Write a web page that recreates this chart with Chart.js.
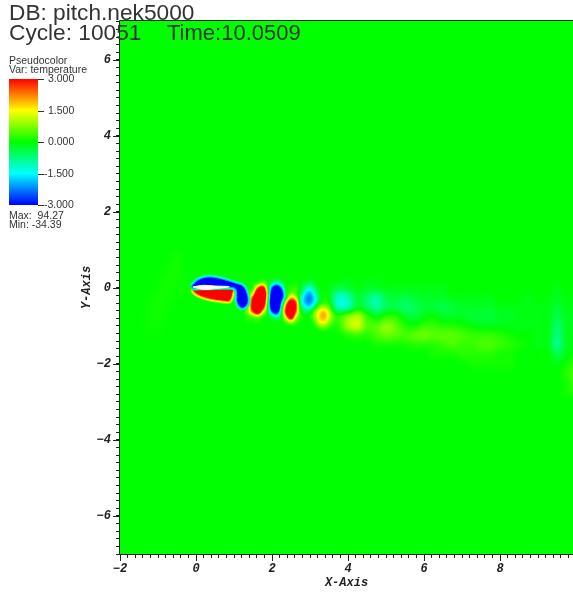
<!DOCTYPE html>
<html>
<head>
<meta charset="utf-8">
<style>
  html, body { margin: 0; padding: 0; background: #fff; }
  canvas { display: block; }
</style>
<script src="https://cdn.jsdelivr.net/npm/chart.js@4/dist/chart.umd.min.js"></script>
</head>
<body>
<canvas id="chart" width="573" height="592"></canvas>
<script>
// Temperature, near wake (vortices behind the wing)
const nearX = [1.25, 1.375, 1.5, 1.625, 1.75, 1.875, 2, 2.125, 2.25, 2.375, 2.5, 2.625, 2.75, 2.875, 3, 3.125, 3.25, 3.375, 3.5, 3.625, 3.75];
const nearY = [0.25, 0.125, 0, -0.125, -0.25, -0.375, -0.5, -0.625, -0.75, -0.875, -1, -1.125];
const nearTemp = [
  [0, 0, 0, 0, 0.1, 0, -0.1, -0.2, -0.1, 0, 0, 0, 0, 0, -0.1, -0.1, 0, 0, 0, 0, 0],
  [0, 0, 0.1, 0.4, 0.8, 0.2, -0.8, -1.4, -0.7, 0, 0, 0.1, -0.1, -0.3, -0.5, -0.2, 0, 0, 0, 0, 0],
  [0, 0.1, 0.3, 2.4, 3.6, 0.6, -2.4, -4, -2.2, -0.1, 0.2, 0.3, -0.1, -0.8, -1.2, -0.6, -0.1, 0, 0, 0, 0],
  [0, 0.4, 1.2, 4.5, 5.5, 1.2, -3.6, -5.5, -3.4, -0.2, 0.5, 0.5, -0.4, -1.5, -1.9, -1.1, -0.2, 0.1, 0.1, 0, 0],
  [0.1, 0.7, 2.8, 5.5, 5.5, 1, -4.2, -6, -3.4, -0.2, 1.8, 1.2, -0.8, -1.9, -2.2, -1.5, -0.4, 0.2, 0.2, 0.1, 0],
  [0.1, 0.9, 3.4, 5.5, 5, 0.6, -4.4, -6, -2, 1.6, 3.8, 2.6, -0.7, -1.9, -2.1, -1.4, -0.2, 0.3, 0.3, 0.1, 0],
  [0.1, 1, 3.6, 5.5, 3.6, 0.3, -3.8, -5.5, -1, 2.8, 5.5, 3, -0.2, -1.3, -1.5, -0.4, 0.8, 1, 0.7, 0.2, 0],
  [0.1, 0.9, 2.6, 4, 1.8, 0.1, -2.4, -3.4, -0.3, 3.2, 5.5, 2.6, 0.2, -0.5, -0.3, 0.7, 1.5, 1.8, 1.1, 0.3, 0],
  [0.1, 0.3, 0.6, 1, 0.3, 0, -0.6, -1.1, -0.1, 2, 4, 1.4, 0.3, 0, 0.1, 0.8, 1.7, 1.9, 1.2, 0.3, 0],
  [0, 0.1, 0.1, 0.2, 0, 0, -0.1, -0.1, 0, 0.6, 1.4, 0.5, 0.1, 0, 0, 0.5, 1.4, 1.6, 0.9, 0.2, 0],
  [0, 0, 0, 0, 0, 0, 0, 0, 0, 0, 0.1, 0.1, 0, 0, 0, 0.1, 0.7, 0.8, 0.4, 0.1, 0],
  [0, 0, 0, 0, 0, 0, 0, 0, 0, 0, 0, 0, 0, 0, 0, 0, 0.1, 0.2, 0.1, 0, 0]
];

// Far wake, out to the right edge
const farX = [3.25, 3.5, 3.75, 4, 4.25, 4.5, 4.75, 5, 5.25, 5.5, 5.75, 6, 6.25, 6.5, 6.75, 7, 7.25, 7.5, 7.75, 8, 8.25, 8.5, 8.75, 9, 9.25, 9.5, 9.75, 10];
const farY = [0.25, 0, -0.25, -0.5, -0.75, -1, -1.25, -1.5, -1.75, -2, -2.25, -2.5, -2.75, -3];
const farTemp = [
  [0, 0, 0, -0.1, 0, -0.1, -0.1, 0, 0, 0, 0, 0, 0, 0, 0, 0, 0, 0, 0, 0, 0, 0, 0, 0, 0, 0, 0, 0],
  [0, -0.1, -0.4, -0.3, -0.1, -0.2, -0.2, -0.1, -0.1, -0.1, -0.1, -0.1, -0.1, -0.1, 0, 0, 0, 0, 0, 0, 0, 0, 0, 0, 0, -0.1, 0, 0],
  [0, -0.3, -1.2, -1, -0.3, -0.6, -0.9, -0.4, -0.3, -0.4, -0.3, -0.2, -0.2, -0.2, -0.1, -0.1, -0.1, -0.1, -0.1, 0, 0, 0, -0.1, 0, -0.05, -0.15, -0.05, -0.1],
  [0, -0.2, -1.1, -1, -0.2, -0.5, -0.9, -0.5, -0.4, -0.6, -0.5, -0.3, -0.3, -0.4, -0.3, -0.2, -0.2, -0.2, -0.2, -0.1, -0.1, -0.1, -0.1, -0.1, -0.1, -0.3, -0.1, -0.2],
  [0, 0.1, 0.2, 0.7, 1, 0.3, -0.1, 0.2, 0.2, -0.2, -0.3, -0.1, 0, -0.2, -0.2, -0.2, -0.3, -0.3, -0.3, -0.2, -0.2, -0.1, -0.1, -0.1, -0.1, -0.4, -0.15, -0.2],
  [0, 0, 0.2, 0.9, 1.2, 0.5, 0.5, 0.8, 0.6, 0.2, 0.1, 0.3, 0.3, 0.2, 0.2, 0.1, 0, -0.1, -0.1, -0.1, -0.1, -0.1, -0.1, -0.1, -0.1, -0.6, -0.2, -0.1],
  [0, 0, 0, 0.2, 0.3, 0.2, 0.4, 0.6, 0.5, 0.4, 0.5, 0.6, 0.5, 0.5, 0.5, 0.4, 0.3, 0.3, 0.3, 0.2, 0.1, 0, 0, -0.1, -0.1, -0.7, -0.2, 0],
  [0, 0, 0, 0, 0, 0, 0.1, 0.1, 0.1, 0.1, 0.2, 0.2, 0.2, 0.3, 0.4, 0.3, 0.3, 0.4, 0.4, 0.3, 0.2, 0.1, 0, -0.1, -0.1, -0.8, -0.2, 0],
  [0, 0, 0, 0, 0, 0, 0, 0, 0, 0, 0, 0, 0.1, 0.1, 0.1, 0.2, 0.2, 0.2, 0.2, 0.1, 0.1, 0, 0, 0, 0, -0.4, -0.1, 0.1],
  [0, 0, 0, 0, 0, 0, 0, 0, 0, 0, 0, 0, 0, 0, 0, 0, 0.1, 0.1, 0.1, 0.1, 0.1, 0, 0, 0, 0, -0.1, 0.1, 0.3],
  [0, 0, 0, 0, 0, 0, 0, 0, 0, 0, 0, 0, 0, 0, 0, 0, 0, 0, 0, 0, 0, 0, 0, 0, 0, 0, 0.2, 0.5],
  [0, 0, 0, 0, 0, 0, 0, 0, 0, 0, 0, 0, 0, 0, 0, 0, 0, 0, 0, 0, 0, 0, 0, 0, 0, 0, 0.1, 0.4],
  [0, 0, 0, 0, 0, 0, 0, 0, 0, 0, 0, 0, 0, 0, 0, 0, 0, 0, 0, 0, 0, 0, 0, 0, 0, 0, 0.1, 0.2],
  [0, 0, 0, 0, 0, 0, 0, 0, 0, 0, 0, 0, 0, 0, 0, 0, 0, 0, 0, 0, 0, 0, 0, 0, 0, 0, 0, 0]
];

// Faint streaks ahead of the wing
const frontX = [-1.5, -1.25, -1, -0.75, -0.5, -0.25, 0];
const frontY = [1, 0.5, 0, -0.5, -1, -1.5];
const frontTemp = [
  [0, 0, 0, 0, 0.05, 0, 0],
  [0, 0, 0, 0.05, 0.1, 0, 0],
  [0, 0, 0.05, 0.1, 0.05, 0.05, 0],
  [0, 0.05, 0.1, 0.05, 0, 0, 0],
  [0, 0.05, 0.05, 0, 0, 0, 0],
  [0, 0, 0, 0, 0, 0, 0]
];

// Outlines around the wing, as x,y pairs in axis units
const blueCore = [[-0.105, 0.026], [0.044, 0.176], [0.263, 0.255], [0.526, 0.245], [0.79, 0.176], [1.05, 0.097], [1.228, 0.026], [1.316, -0.15], [1.342, -0.368], [1.245, -0.5], [1.14, -0.456], [1.097, -0.324], [1.097, -0.105], [1.05, 0], [0.92, 0.045], [0.5, 0.04], [0.1, 0.03], [-0.105, 0.026]];
const redCore = [[-0.087, -0.018], [0, -0.123], [0.176, -0.21], [0.44, -0.28], [0.745, -0.32], [0.876, -0.32], [0.947, -0.105], [0.965, 0], [0.5, 0.01], [-0.087, -0.018]];
const wingGap = [[-0.087, 0.026], [0.176, 0.07], [0.48, 0.053], [0.876, 0.034], [0.48, -0.018], [0.176, -0.034], [-0.087, 0.026]];

const legendValues = [3, 1.5, 0, -1.5, -3];
const legendLabels = ["3.000", "1.500", "0.000", "-1.500", "-3.000"];
const xTickLabels = [-2, 0, 2, 4, 6, 8];
const yTickLabels = [-6, -4, -2, 0, 2, 4, 6];

const textColor = "#222";
const axisFont = { family: "'Liberation Mono'", size: 12, weight: "bold", style: "italic" };

// Blue - cyan - green - yellow - red over -3..3
function tempColor(t) {
  const v = Math.max(0, Math.min(1, (t + 3) / 6)) * 4;
  const i = Math.min(3, Math.floor(v));
  const f = v - i;
  if (i === 0) return [0, 255 * f, 255];
  if (i === 1) return [0, 255, 255 * (1 - f)];
  if (i === 2) return [255 * f, 255, 0];
  return [255, 255 * (1 - f), 0];
}

function cubic(a, b, c, d, f) {
  return b + 0.5 * f * (c - a + f * (2 * a - 5 * b + 4 * c - d + f * (3 * (b - c) + d - a)));
}

// Smooth reading of one value table, 0 outside of it
function sampleTable(xs, ys, rows, x, y) {
  const nx = xs.length, ny = ys.length;
  if (x < xs[0] || x > xs[nx - 1] || y > ys[0] || y < ys[ny - 1]) return 0;
  const gx = (x - xs[0]) / (xs[1] - xs[0]);
  const gy = (ys[0] - y) / (ys[0] - ys[1]);
  const ix = Math.min(nx - 2, Math.floor(gx));
  const iy = Math.min(ny - 2, Math.floor(gy));
  const col = [];
  for (let j = -1; j <= 2; j++) {
    const r = rows[Math.max(0, Math.min(ny - 1, iy + j))];
    const at = (k) => r[Math.max(0, Math.min(nx - 1, ix + k))];
    col.push(cubic(at(-1), at(0), at(1), at(2), gx - ix));
  }
  return cubic(col[0], col[1], col[2], col[3], gy - iy);
}

function fieldAt(x, y) {
  return sampleTable(nearX, nearY, nearTemp, x, y) +
    sampleTable(farX, farY, farTemp, x, y) +
    sampleTable(frontX, frontY, frontTemp, x, y);
}

let fieldImage = null;

const fieldPlugin = {
  id: "field",
  beforeDatasetsDraw(chart) {
    const { ctx, chartArea: area, scales } = chart;
    if (!fieldImage) {
      const w = Math.round(area.right - area.left);
      const h = Math.round(area.bottom - area.top);
      fieldImage = document.createElement("canvas");
      fieldImage.width = w;
      fieldImage.height = h;
      const fctx = fieldImage.getContext("2d");
      const img = fctx.createImageData(w, h);
      for (let py = 0; py < h; py++) {
        const y = scales.y.getValueForPixel(area.top + py + 0.5);
        for (let px = 0; px < w; px++) {
          const x = scales.x.getValueForPixel(area.left + px + 0.5);
          const c = tempColor(fieldAt(x, y));
          const o = (py * w + px) * 4;
          img.data[o] = c[0];
          img.data[o + 1] = c[1];
          img.data[o + 2] = c[2];
          img.data[o + 3] = 255;
        }
      }
      fctx.putImageData(img, 0, 0);
    }
    ctx.drawImage(fieldImage, area.left, area.top);
  }
};

const framePlugin = {
  id: "frame",
  afterDraw(chart) {
    const { ctx, chartArea: area, scales } = chart;
    ctx.save();

    // Longer marks on the labelled ticks
    ctx.strokeStyle = textColor;
    ctx.lineWidth = 1;
    ctx.beginPath();
    xTickLabels.forEach((v) => {
      const px = Math.round(scales.x.getPixelForValue(v)) + 0.5;
      ctx.moveTo(px, area.bottom);
      ctx.lineTo(px, area.bottom + 7);
    });
    yTickLabels.forEach((v) => {
      const py = Math.round(scales.y.getPixelForValue(v)) + 0.5;
      ctx.moveTo(area.left, py);
      ctx.lineTo(area.left - 7, py);
    });
    // Frame
    ctx.moveTo(area.left - 0.5, area.top - 0.5);
    ctx.lineTo(area.right, area.top - 0.5);
    ctx.moveTo(area.left - 0.5, area.top - 0.5);
    ctx.lineTo(area.left - 0.5, area.bottom + 0.5);
    ctx.lineTo(area.right, area.bottom + 0.5);
    ctx.stroke();

    // Run header
    ctx.fillStyle = "#333";
    ctx.textBaseline = "alphabetic";
    ctx.textAlign = "left";
    ctx.font = "22.7px 'Liberation Sans'";
    ctx.fillText("DB: pitch.nek5000", 9, 20);
    ctx.fillText("Cycle: 10051", 9, 40);
    ctx.font = "22px 'Liberation Sans'";
    ctx.fillText("Time:10.0509", 167, 40);

    // Colour legend
    ctx.font = "10.5px 'Liberation Sans'";
    ctx.fillText("Pseudocolor", 9, 64);
    ctx.fillText("Var: temperature", 9, 73);
    ctx.fillText("Max:  94.27", 9, 219);
    ctx.fillText("Min: -34.39", 9, 228);

    const barTop = 79, barBottom = 205, barLeft = 9, barRight = 38;
    for (let py = barTop; py < barBottom; py++) {
      const t = 3 - 6 * (py - barTop + 0.5) / (barBottom - barTop);
      const c = tempColor(t);
      ctx.fillStyle = `rgb(${c[0]},${c[1]},${c[2]})`;
      ctx.fillRect(barLeft, py, barRight - barLeft, 1);
    }
    ctx.fillStyle = "#333";
    ctx.textBaseline = "middle";
    legendValues.forEach((v, i) => {
      const py = barTop + (3 - v) / 6 * (barBottom - barTop);
      ctx.fillRect(barRight, Math.round(py), 6, 1);
      ctx.fillText(legendLabels[i], legendLabels[i][0] === "-" ? 44 : 48, Math.round(py) + 0.5);
    });
    ctx.restore();
  }
};

function outline(points, color, width, fillColor) {
  return {
    data: points.map((p) => ({ x: p[0], y: p[1] })),
    showLine: true,
    tension: 0.35,
    pointRadius: 0,
    borderColor: color,
    borderWidth: width,
    borderJoinStyle: "round",
    backgroundColor: fillColor || "transparent",
    fill: fillColor ? "shape" : false
  };
}

// First dataset is painted last
const datasets = [
  outline(wingGap, "#fff", 1, "#fff"),
  outline(blueCore, "#0000ff", 1, "#0000ff"),
  outline(blueCore, "rgb(0,150,255)", 3),
  outline(blueCore, "rgb(0,255,230)", 5),
  outline(blueCore, "rgb(0,255,120)", 7),
  outline(redCore, "#ff0000", 1, "#ff0000"),
  outline(redCore, "rgb(255,150,0)", 3),
  outline(redCore, "rgb(255,255,0)", 5),
  outline(redCore, "rgb(130,255,0)", 7)
];

function minorTicks(scale, from, to) {
  const ticks = [];
  for (let i = Math.round(from * 5); i <= Math.round(to * 5); i++) {
    ticks.push({ value: i / 5 });
  }
  scale.ticks = ticks;
}

function majorLabel(value) {
  const v = Math.round(value * 5) / 5;
  return Number.isInteger(v) && v % 2 === 0 ? String(v).replace("-", "\u2212") : "";
}

new Chart(document.getElementById("chart"), {
  type: "scatter",
  data: { datasets },
  options: {
    responsive: false,
    animation: false,
    events: [],
    layout: { padding: { left: 80, top: 21, right: 0, bottom: 0 } },
    plugins: { legend: { display: false }, tooltip: { enabled: false } },
    scales: {
      x: {
        type: "linear",
        min: -2,
        max: 9.921,
        afterBuildTicks: (s) => minorTicks(s, -2, 9.8),
        afterFit: (s) => { s.height = 38; },
        grid: { drawOnChartArea: false, tickLength: 4, color: textColor },
        border: { color: textColor },
        ticks: { callback: majorLabel, autoSkip: false, maxRotation: 0, padding: 4, color: textColor, font: axisFont },
        title: { display: true, text: "X-Axis", color: textColor, font: axisFont, padding: { top: 0, bottom: 2 } }
      },
      y: {
        type: "linear",
        min: -7,
        max: 7.026,
        afterBuildTicks: (s) => minorTicks(s, -7, 7),
        afterFit: (s) => { s.width = 40; },
        grid: { drawOnChartArea: false, tickLength: 4, color: textColor },
        border: { color: textColor },
        ticks: { callback: majorLabel, autoSkip: false, padding: 5, color: textColor, font: axisFont },
        title: { display: true, text: "Y-Axis", color: textColor, font: axisFont, padding: 0 }
      }
    }
  },
  plugins: [fieldPlugin, framePlugin]
});
</script>
</body>
</html>
